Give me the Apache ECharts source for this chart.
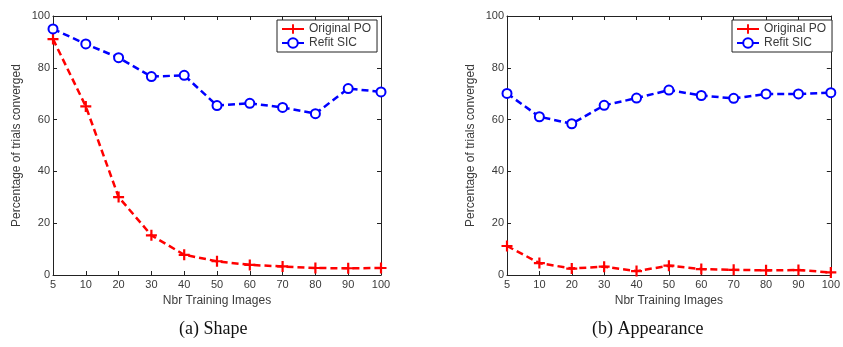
<!DOCTYPE html>
<html><head><meta charset="utf-8">
<script src="https://cdn.jsdelivr.net/npm/echarts@6/dist/echarts.min.js"></script>
<style>html,body{margin:0;padding:0;background:#fff}#c{width:843px;height:347px}</style>
</head><body><div id="c"></div>
<script>
const categories = ['5','10','20','30','40','50','60','70','80','90','100'];
const shapeOriginalPO = [91.1, 65.1, 30.1, 15.3, 7.8, 5.3, 3.9, 3.3, 2.7, 2.6, 2.7];
const shapeRefitSIC = [95.0, 89.2, 83.9, 76.6, 77.1, 65.4, 66.3, 64.7, 62.3, 72.0, 70.7];
const appOriginalPO = [11.2, 4.6, 2.5, 3.2, 1.5, 3.6, 2.3, 2.0, 1.8, 1.9, 1.0];
const appRefitSIC = [70.1, 61.1, 58.4, 65.5, 68.3, 71.4, 69.3, 68.2, 69.9, 69.9, 70.4];
const yTicks = [0, 20, 40, 60, 80, 100];
const seriesNames = ['Original PO', 'Refit SIC'];
const captions = ['(a) Shape', '(b) Appearance'];

const chart = echarts.init(document.getElementById('c'));
const plus = 'path://M4,0 H6 V4 H10 V6 H6 V10 H4 V6 H0 V4 H4 Z';
const txt = '#3a3a3a';
const font = 'Liberation Sans';
const grids = [
  {left: 53, right: 462, top: 16, bottom: 72},
  {left: 507, right: 8, top: 16, bottom: 72}
];
const xAxes = [], yAxes = [], series = [], legends = [];
grids.forEach((g, i) => {
  xAxes.push({
    type: 'category', gridIndex: i, data: categories, boundaryGap: false,
    axisLine: {onZero: false, lineStyle: {color: '#222', width: 1}},
    axisTick: {inside: true, length: 4, lineStyle: {color: '#222'}},
    axisLabel: {color: txt, fontFamily: font, fontSize: 11, margin: 4},
    name: 'Nbr Training Images', nameLocation: 'middle', nameGap: 17,
    nameTextStyle: {color: txt, fontFamily: font, fontSize: 12}
  });
  xAxes.push({
    type: 'category', gridIndex: i, data: categories, boundaryGap: false, position: 'top',
    axisLine: {onZero: false, lineStyle: {color: '#222', width: 1}},
    axisTick: {inside: true, length: 4, lineStyle: {color: '#222'}},
    axisLabel: {show: false}
  });
  yAxes.push({
    type: 'value', gridIndex: i, min: yTicks[0], max: yTicks[yTicks.length-1], interval: 20,
    splitLine: {show: false},
    axisLine: {show: true, onZero: false, lineStyle: {color: '#222', width: 1}},
    axisTick: {show: true, inside: true, length: 4, lineStyle: {color: '#222'}},
    axisLabel: {color: txt, fontFamily: font, fontSize: 11, margin: 3},
    name: 'Percentage of trials converged', nameLocation: 'middle', nameGap: 30,
    nameTextStyle: {color: txt, fontFamily: font, fontSize: 12}
  });
  yAxes.push({
    type: 'value', gridIndex: i, min: 0, max: 100, interval: 20, position: 'right',
    splitLine: {show: false},
    axisLine: {show: true, onZero: false, lineStyle: {color: '#222', width: 1}},
    axisTick: {show: true, inside: true, length: 4, lineStyle: {color: '#222'}},
    axisLabel: {show: false}
  });
  const orig = i === 0 ? shapeOriginalPO : appOriginalPO;
  const refit = i === 0 ? shapeRefitSIC : appRefitSIC;
  series.push({
    name: seriesNames[0], type: 'line', xAxisIndex: 2*i, yAxisIndex: 2*i, data: orig,
    symbol: plus, symbolSize: 11, showAllSymbol: true,
    lineStyle: {color: '#ff0000', width: 2.5, type: [7, 4]},
    itemStyle: {color: '#ff0000'}, z: 3
  });
  series.push({
    name: seriesNames[1], type: 'line', xAxisIndex: 2*i, yAxisIndex: 2*i, data: refit,
    symbol: 'emptyCircle', symbolSize: 9, showAllSymbol: true,
    lineStyle: {color: '#0000ff', width: 2.5, type: [7, 4]},
    itemStyle: {color: '#0000ff', borderColor: '#0000ff', borderWidth: 2}, z: 4
  });
  legends.push({
    data: seriesNames, orient: 'vertical',
    left: i === 0 ? 277 : 732, top: 20, width: 100,
    padding: [3, 6, 3, 4], itemGap: 2, itemWidth: 22, itemHeight: 12,
    backgroundColor: '#fff', borderColor: '#222', borderWidth: 1,
    lineStyle: {type: 'solid'},
    textStyle: {color: txt, fontFamily: font, fontSize: 12, padding: [0, 10, 0, 0]}
  });
});

chart.setOption({
  animation: false,
  grid: grids,
  xAxis: xAxes,
  yAxis: yAxes,
  series: series,
  legend: legends,
  graphic: [
    {type: 'text', left: 217 - 38, top: 320, style: {text: captions[0], font: '18px "Liberation Serif"', fill: '#111'}},
    {type: 'text', left: 656 - 64, top: 320, style: {text: captions[1], font: '18px "Liberation Serif"', fill: '#111'}}
  ]
});
</script></body></html>
